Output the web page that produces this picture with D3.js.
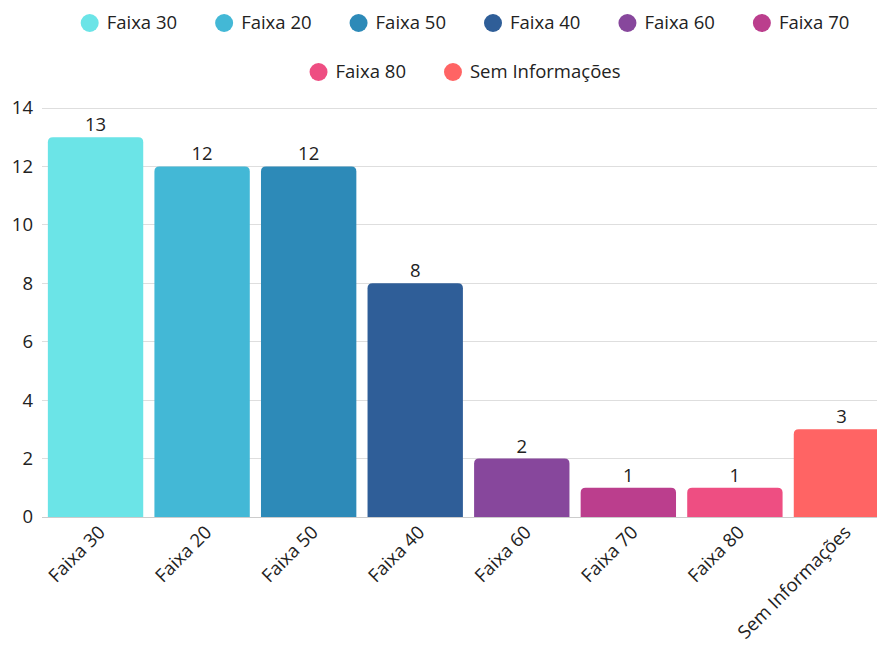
<!DOCTYPE html>
<html><head><meta charset="utf-8">
<script src="https://cdn.jsdelivr.net/npm/d3@7"></script>
<style>
html,body{margin:0;padding:0;background:#fff;overflow:hidden}
text{font-family:"Open Sans",sans-serif}
</style></head>
<body><svg id="c" width="877" height="648"></svg>
<script>
const categories = ["Faixa 30","Faixa 20","Faixa 50","Faixa 40","Faixa 60","Faixa 70","Faixa 80","Sem Informações"];
const values = [13,12,12,8,2,1,1,3];
const colors = ["#6be4e7","#43b8d6","#2d8ab8","#2f5e98","#87479c","#bb3e8d","#ee4e82","#ff6464"];
const yTicks = [0,2,4,6,8,10,12,14];

(function(){
const svg = d3.select("#c");
const W = 877, FS = 18.5;
const pLeft = 42, pRight = 895, pTop = 108, pBottom = 517;

const x = d3.scaleBand().domain(categories).range([pLeft, pRight]).paddingInner(0.105).paddingOuter(0.055);
const y = d3.scaleLinear().domain([0,14]).range([pBottom, pTop]);

svg.append("g").selectAll("line").data(yTicks).join("line")
  .attr("x1", pLeft).attr("x2", W).attr("y1", d=>y(d)).attr("y2", d=>y(d))
  .attr("stroke", d=> d===0 ? "#ccc" : "#dedede").attr("stroke-width",1).attr("shape-rendering","crispEdges");

svg.append("g").selectAll("text").data(yTicks).join("text")
  .attr("x", 33).attr("y", d=>y(d)).attr("dy","0.35em")
  .attr("text-anchor","end").attr("font-size",FS).attr("fill","#222").text(d=>d);

function barPath(x0, y0, w, h, r){
  r = Math.min(r, h, w/2);
  return `M${x0},${y0+h}V${y0+r}Q${x0},${y0} ${x0+r},${y0}H${x0+w-r}Q${x0+w},${y0} ${x0+w},${y0+r}V${y0+h}Z`;
}
svg.append("g").selectAll("path").data(categories).join("path")
  .attr("d",(d,i)=>barPath(x(d), y(values[i]), x.bandwidth(), y(0)-y(values[i]), 5))
  .attr("fill",(d,i)=>colors[i]);

svg.append("g").selectAll("text").data(categories).join("text")
  .attr("x", d=>x(d)+x.bandwidth()/2).attr("y",(d,i)=>y(values[i])-6)
  .attr("text-anchor","middle").attr("font-size",FS).attr("fill","#222")
  .text((d,i)=>values[i]);

svg.append("g").selectAll("text").data(categories).join("text")
  .attr("transform", d=>`translate(${x(d)+x.bandwidth()/2+6},${pBottom+12}) rotate(-45)`)
  .attr("text-anchor","end").attr("dy","0.35em").attr("font-size",FS).attr("fill","#222")
  .text(d=>d);

const legendRows = [[0,1,2,3,4,5],[6,7]];
const rowY = [23,72];
const cx = 465, gap = 38, r = 9;
legendRows.forEach((row, ri)=>{
  const g = svg.append("g");
  const items = row.map(i=>{
    const it = g.append("g");
    it.append("circle").attr("cx", r).attr("cy", 0).attr("r", r).attr("fill", colors[i]);
    const t = it.append("text").attr("x", 2*r+8).attr("y",0).attr("dy","0.35em")
      .attr("font-size",FS).attr("fill","#222").text(categories[i]);
    const w = 2*r+8+t.node().getComputedTextLength();
    return {it, w};
  });
  const total = d3.sum(items, d=>d.w) + gap*(items.length-1);
  let xx = cx - total/2;
  items.forEach(d=>{ d.it.attr("transform",`translate(${xx},${rowY[ri]})`); xx += d.w + gap; });
});
})();
</script></body></html>
